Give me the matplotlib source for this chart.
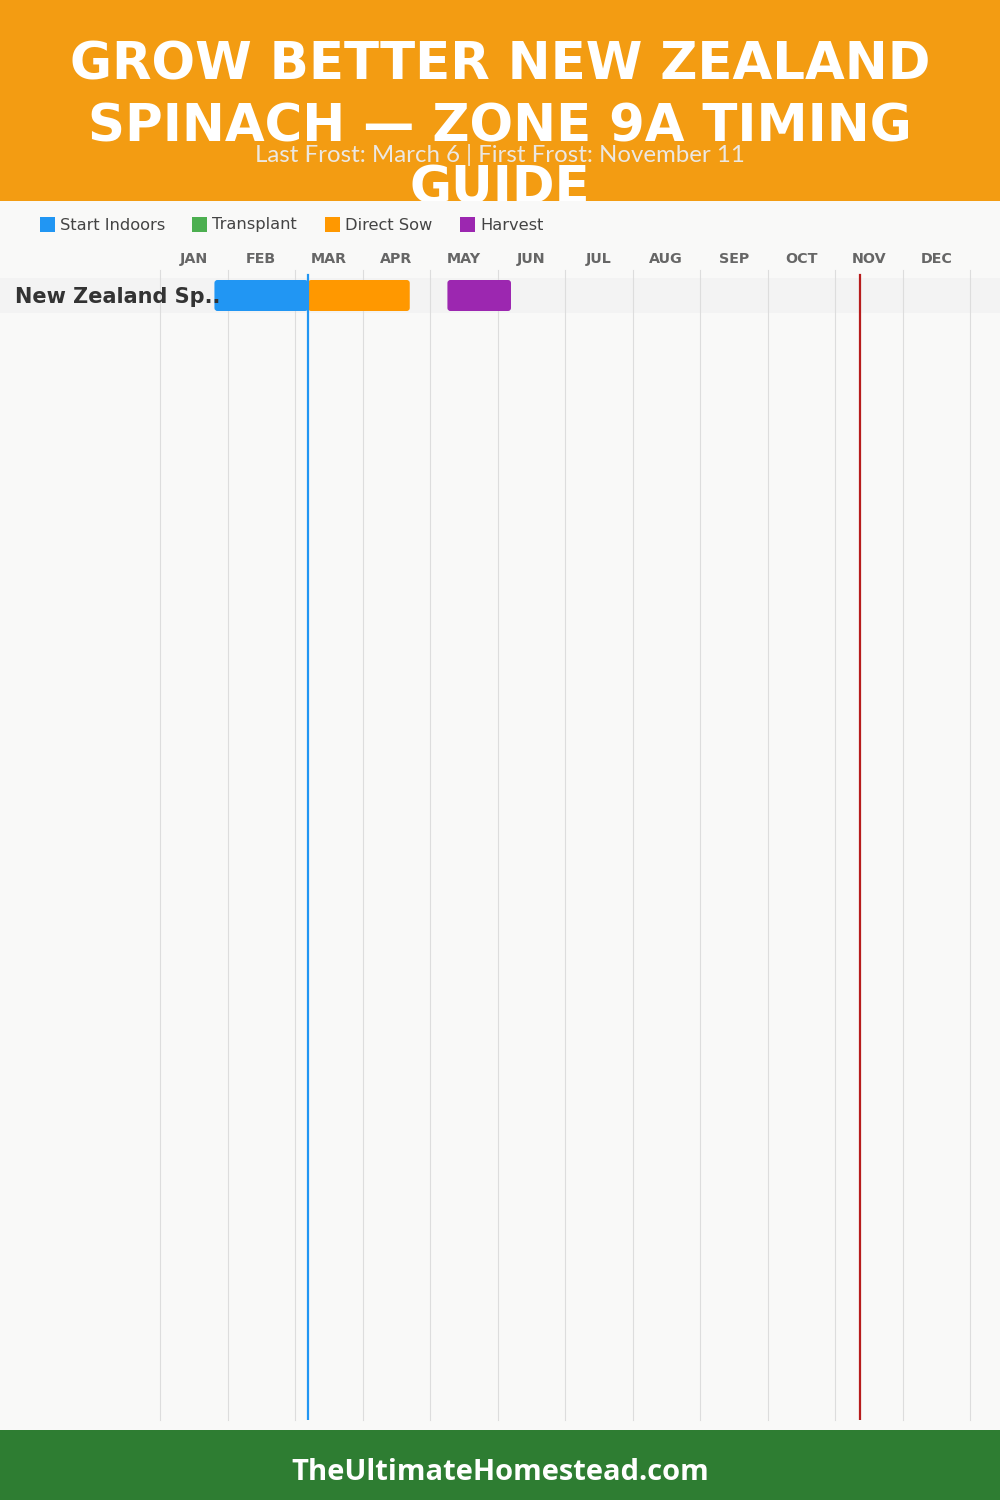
import matplotlib
matplotlib.use("Agg")
import matplotlib.pyplot as plt
from matplotlib.patches import Rectangle, FancyBboxPatch
from matplotlib.transforms import blended_transform_factory

# ---------------- data ----------------
title_lines = ["GROW BETTER NEW ZEALAND", "SPINACH \u2014 ZONE 9A TIMING", "GUIDE"]
subtitle = "Last Frost: March 6 | First Frost: November 11"
footer = "TheUltimateHomestead.com"
months = ["JAN", "FEB", "MAR", "APR", "MAY", "JUN", "JUL", "AUG", "SEP", "OCT", "NOV", "DEC"]
days_in_month = [31, 28, 31, 30, 31, 30, 31, 31, 30, 31, 30, 31]
crops = ["New Zealand Sp.."]
legend_names = ["Start Indoors", "Transplant", "Direct Sow", "Harvest"]
legend_colors = ["#2196F3", "#4CAF50", "#FF9800", "#9C27B0"]
phase_names = ["Start Indoors", "Direct Sow", "Harvest"]
phase_start = [(1, 25), (3, 6), (5, 8)]
phase_end = [(3, 6), (4, 21), (6, 6)]
last_frost = (3, 6)
first_frost = (11, 11)


def mpos(md):
    m, d = md
    return (m - 1) + d / days_in_month[m - 1]


W, H = 1000, 1500
fig = plt.figure(figsize=(W / 100, H / 100), dpi=100)
fig.patch.set_facecolor("#F9F9F8")

# overlay axes in pixel coordinates
ov = fig.add_axes([0, 0, 1, 1])
ov.set_xlim(0, W)
ov.set_ylim(H, 0)
ov.axis("off")

ov.add_patch(Rectangle((0, 0), W, 201, facecolor="#F39C12", edgecolor="none", zorder=1))
for i, line in enumerate(title_lines):
    ov.text(W / 2, 65 + i * 62, line, ha="center", va="center", color="white",
            fontsize=37, fontweight="heavy", family=["DejaVu Sans"], zorder=2)
ov.text(W / 2, 155, subtitle, ha="center", va="center", color="#ECE8E2",
        fontsize=17.3, fontweight="normal", family=["Lato", "DejaVu Sans"], zorder=3)
# body panel hides the overflow of the title
ov.add_patch(Rectangle((0, 201), W, 1229, facecolor="#F9F9F8", edgecolor="none", zorder=4))
ov.add_patch(Rectangle((0, 1430), W, 70, facecolor="#2E7D32", edgecolor="none", zorder=4))
ov.text(W / 2, 1472, footer, ha="center", va="center", color="white",
        fontsize=21, fontweight="bold", family=["Open Sans", "DejaVu Sans"], zorder=5)

# legend
leg_x = [40, 192, 325, 460]
for name, col, x in zip(legend_names, legend_colors, leg_x):
    ov.add_patch(Rectangle((x, 217), 15, 15, facecolor=col, edgecolor="none", zorder=5))
    ov.text(x + 20, 225, name, ha="left", va="center", color="#444444",
            fontsize=11.7, family=["DejaVu Sans"], zorder=5)

# chart axes: pixel x 160..970, y 270..1420
ax = fig.add_axes([160 / W, 1 - 1420 / H, 810 / W, 1150 / H])
ax.set_zorder(5)
ax.patch.set_alpha(0)
row_px = 35.0
top_y = -0.5 - (278 - 270) / row_px
bot_y = 0.5 + (1420 - 313) / row_px
ax.set_xlim(0, 12)
ax.set_ylim(bot_y, top_y)
ax.axis("off")

# row band across full width
tb = blended_transform_factory(fig.transFigure, ax.transData)
for r, crop in enumerate(crops):
    ax.add_patch(Rectangle((0, r - 0.5), 1, 1, transform=tb, facecolor="#F3F3F3",
                           edgecolor="none", clip_on=False, zorder=0))
    ax.text(15 / W, r + 0.05, crop, transform=tb, ha="left", va="center", color="#333333",
            fontsize=15, fontweight="bold", family=["DejaVu Sans"], zorder=3)

for i in range(13):
    ax.axvline(i, color="#DDDDDD", lw=0.8, zorder=1, clip_on=False)
for i, m in enumerate(months):
    ax.text(i + 0.5, -0.5 - (278 - 259) / row_px, m, ha="center", va="center",
            color="#666666", fontsize=10.3, fontweight="bold", family=["DejaVu Sans"],
            clip_on=False)

color_of = dict(zip(legend_names, legend_colors))
bar_h = 31 / row_px
aspect = (1 / row_px) / (12 / 810)
for name, s, e in zip(phase_names, phase_start, phase_end):
    x0, x1 = mpos(s), mpos(e)
    ax.add_patch(FancyBboxPatch((x0, 0 - bar_h / 2), x1 - x0, bar_h,
                                boxstyle="round,pad=0,rounding_size=0.045",
                                mutation_aspect=aspect, facecolor=color_of[name],
                                edgecolor="none", zorder=2))

frost_top = (1420 - 275) / 1150
ax.axvline(mpos(last_frost), ymin=0, ymax=frost_top, color="#2196F3", lw=1.6, zorder=4)
ax.axvline(mpos(first_frost), ymin=0, ymax=frost_top, color="#B71C1C", lw=1.6, zorder=4)

fig.savefig("out.png", dpi=100, facecolor=fig.get_facecolor())
